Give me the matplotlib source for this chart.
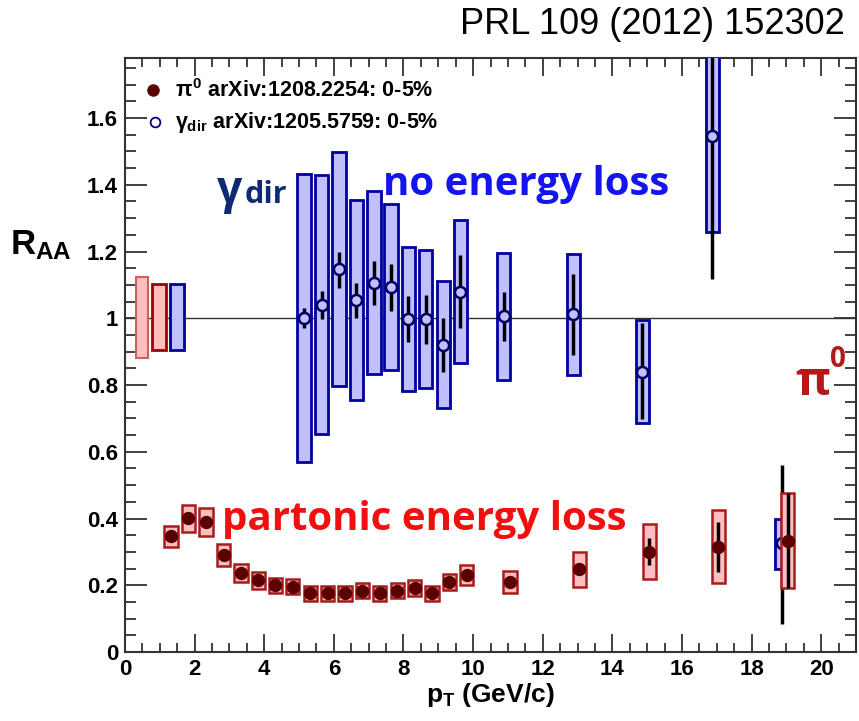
#R_AA of pi0 and direct photons, central Au+Au
import numpy as np
import matplotlib
matplotlib.use('Agg')
import matplotlib.pyplot as plt
from matplotlib.ticker import MultipleLocator, FuncFormatter

plt.rcParams['font.family'] = ['Liberation Sans', 'DejaVu Sans']
plt.rcParams['mathtext.fontset'] = 'custom'
plt.rcParams['mathtext.rm'] = 'Liberation Sans:bold'
plt.rcParams['mathtext.it'] = 'Liberation Sans:bold'
plt.rcParams['mathtext.bf'] = 'Liberation Sans:bold'

#direct photons
g_pt = [5.14, 5.65, 6.15, 6.65, 7.15, 7.64, 8.14, 8.64, 9.14, 9.63, 10.88, 12.88, 14.86, 16.87, 18.86]
g_raa = [1.00, 1.04, 1.147, 1.055, 1.107, 1.094, 0.999, 0.997, 0.92, 1.08, 1.007, 1.013, 0.84, 1.545, 0.327]
g_stat_lo = [0.97, 0.997, 1.092, 1.001, 1.04, 1.022, 0.930, 0.922, 0.84, 0.972, 0.932, 0.890, 0.697, 1.117, 0.084]
g_stat_hi = [1.03, 1.081, 1.200, 1.107, 1.171, 1.163, 1.067, 1.071, 1.0, 1.189, 1.080, 1.132, 0.985, 1.95, 0.56]
g_sys_lo = [0.568, 0.652, 0.797, 0.755, 0.834, 0.846, 0.782, 0.791, 0.730, 0.866, 0.815, 0.829, 0.687, 1.259, 0.248]
g_sys_hi = [1.432, 1.429, 1.497, 1.354, 1.38, 1.341, 1.215, 1.204, 1.112, 1.295, 1.197, 1.194, 0.995, 1.90, 0.398]

#pi0
p_pt = [1.32, 1.82, 2.33, 2.83, 3.33, 3.83, 4.32, 4.82, 5.32, 5.82, 6.32, 6.82,
        7.32, 7.82, 8.32, 8.82, 9.32, 9.82, 11.06, 13.05, 15.06, 17.04, 19.04]
p_raa = [0.349, 0.401, 0.391, 0.291, 0.238, 0.216, 0.200, 0.196, 0.176, 0.176, 0.176, 0.183,
         0.176, 0.183, 0.191, 0.176, 0.209, 0.231, 0.209, 0.248, 0.301, 0.316, 0.334]
p_stat = [0.006, 0.006, 0.006, 0.006, 0.006, 0.006, 0.006, 0.006, 0.006, 0.006, 0.006, 0.006,
          0.006, 0.006, 0.006, 0.006, 0.006, 0.006, 0.008, 0.015, 0.04, 0.075, 0.143]
p_sys_lo = [0.316, 0.359, 0.348, 0.259, 0.210, 0.190, 0.176, 0.174, 0.154, 0.154, 0.154, 0.161,
            0.154, 0.161, 0.168, 0.154, 0.186, 0.201, 0.178, 0.196, 0.218, 0.206, 0.191]
p_sys_hi = [0.379, 0.441, 0.431, 0.324, 0.264, 0.240, 0.223, 0.219, 0.198, 0.198, 0.198, 0.206,
            0.198, 0.206, 0.216, 0.198, 0.234, 0.261, 0.243, 0.299, 0.383, 0.426, 0.477]

#normalisation uncertainties at R_AA = 1
n_x = [0.49, 0.985, 1.49]
n_lo = [0.880, 0.904, 0.904]
n_hi = [1.125, 1.102, 1.102]

blue_fill = '#c0c0ff'
blue_edge = '#0000a0'
red_fill = '#ffbfbf'
red_edge = '#a81c1c'

fig = plt.figure(figsize=(8.59, 7.21), dpi=100)
ax = fig.add_axes([125/859, 1-652/721, 731/859, 594/721])

ax.axhline(1.0, color='#333333', lw=1.0, zorder=1)

#normalisation boxes
ax.bar(n_x[0], n_hi[0]-n_lo[0], bottom=n_lo[0], width=0.37, color=red_fill, edgecolor='#d06060', lw=1.5, zorder=2)
ax.bar(n_x[1], n_hi[1]-n_lo[1], bottom=n_lo[1], width=0.39, color=red_fill, edgecolor='#a00000', lw=2, zorder=2)
ax.bar(n_x[2], n_hi[2]-n_lo[2], bottom=n_lo[2], width=0.39, color=blue_fill, edgecolor=blue_edge, lw=2, zorder=2)

#photons
g_pt = np.array(g_pt)
ax.bar(g_pt, np.array(g_sys_hi)-np.array(g_sys_lo), bottom=g_sys_lo, width=0.38,
       color=blue_fill, edgecolor=blue_edge, lw=2, zorder=3)
ax.vlines(g_pt, g_stat_lo, g_stat_hi, color='black', lw=2.5, zorder=4)
ax.plot(g_pt, g_raa, 'o', ms=8, mfc=blue_fill, mec='#000060', mew=1.8, zorder=5)

#pi0
p_pt = np.array(p_pt)
ax.bar(p_pt, np.array(p_sys_hi)-np.array(p_sys_lo), bottom=p_sys_lo, width=0.38,
       color=red_fill, edgecolor=red_edge, lw=1.8, zorder=6)
ax.vlines(p_pt, np.array(p_raa)-np.array(p_stat), np.array(p_raa)+np.array(p_stat),
          color='black', lw=2.5, zorder=7)
ax.plot(p_pt, p_raa, 'o', ms=8.6, color='#5a0000', zorder=8)

ax.set_xlim(0, 21)
ax.set_ylim(0, 1.78)
ax.xaxis.set_major_locator(MultipleLocator(2))
ax.xaxis.set_minor_locator(MultipleLocator(0.5))
ax.yaxis.set_major_locator(MultipleLocator(0.2))
ax.yaxis.set_minor_locator(MultipleLocator(0.05))
ax.yaxis.set_major_formatter(FuncFormatter(lambda v, p: '%g' % round(v, 2)))
ax.tick_params(axis='both', which='both', direction='in', top=True, right=True,
               color='#333333', width=1.3, labelsize=16)
ax.tick_params(axis='x', which='major', length=13, pad=5)
ax.tick_params(axis='x', which='minor', length=6.5)
ax.tick_params(axis='y', which='major', length=16, pad=5)
ax.tick_params(axis='y', which='minor', length=8)
for lab in ax.get_xticklabels() + ax.get_yticklabels():
    lab.set_fontweight('bold')
for s in ax.spines.values():
    s.set_linewidth(1.5)
    s.set_color('#333333')

#legend
ax.plot(0.038, 0.946, 'o', ms=8, color='#5a0000', transform=ax.transAxes, clip_on=False)
ax.plot(0.041, 0.892, 'o', ms=7, mfc='white', mec='#000080', mew=1.3, transform=ax.transAxes, clip_on=False)
ax.text(0.068, 0.946, r'$\pi^{0}$ arXiv:1208.2254: 0-5%', transform=ax.transAxes,
        fontsize=15.5, fontweight='bold', va='center')
ax.text(0.068, 0.892, r'$\gamma_{dir}$ arXiv:1205.5759: 0-5%', transform=ax.transAxes,
        fontsize=15.5, fontweight='bold', va='center')

#annotations
ax.text(2.63, 1.345, 'γ', fontsize=32, color='#0d2a73', fontweight='bold',
        family=['Open Sans', 'DejaVu Sans'], va='baseline')
ax.text(3.45, 1.345, 'dir', fontsize=22, color='#0d2a73', fontweight='bold',
        family='Open Sans', va='baseline')
ax.text(7.41, 1.37, 'no energy loss', fontsize=29, color='#1414f0', fontweight='bold',
        family='Open Sans', va='baseline')
ax.text(2.79, 0.366, 'partonic energy loss', fontsize=29, color='#f01010', fontweight='bold',
        family='Open Sans', va='baseline')
ax.text(19.25, 0.77, 'π', fontsize=34, color='#b21a1a', fontweight='bold',
        family=['Open Sans', 'DejaVu Sans'], va='baseline')
ax.text(20.25, 0.855, '0', fontsize=20, color='#b21a1a', fontweight='bold',
        family='Open Sans', va='baseline')

fig.text(10/859, 1-245/721, r'$\mathrm{R_{AA}}$', fontsize=25, fontweight='bold', va='center')
fig.text(490/859, 1-695/721, r'$\mathrm{p_{T}}$ (GeV/c)', fontsize=19, fontweight='bold',
         ha='center', va='center')
fig.text(845/859, 1-25/721, 'PRL 109 (2012) 152302', fontsize=26, ha='right', va='center')

plt.savefig('out.png', dpi=100)
